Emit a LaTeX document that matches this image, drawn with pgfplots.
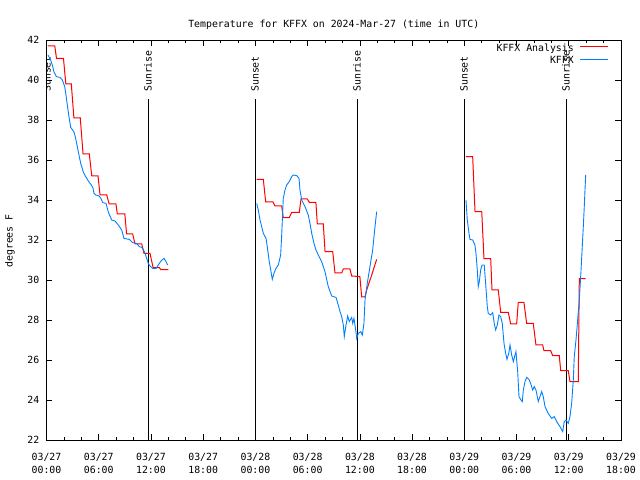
\documentclass[border=0pt]{standalone}
\usepackage{fontspec}
\setmainfont{DejaVu Sans Mono}
\usepackage{pgfplots}
\pgfplotsset{compat=1.18}
\definecolor{gpred}{RGB}{255,0,0}
\definecolor{gpblue}{RGB}{0,128,255}
\begin{document}
\begin{tikzpicture}
\path[use as bounding box] (-46.5bp,-40bp) rectangle (593.5bp,440bp);
\begin{axis}[
  at={(0,0)}, anchor=south west,
  scale only axis, width=574.5bp, height=400bp,
  xmin=0, xmax=66, ymin=22, ymax=42,
  xtick={0,6,...,66},
  xticklabels={{03/27\\00:00},{03/27\\06:00},{03/27\\12:00},{03/27\\18:00},{03/28\\00:00},{03/28\\06:00},{03/28\\12:00},{03/28\\18:00},{03/29\\00:00},{03/29\\06:00},{03/29\\12:00},{03/29\\18:00}},
  minor x tick num=2,
  ytick={22,24,...,42},
  tick align=inside,
  major tick length=6bp, minor tick length=3bp,
  every tick/.style={black, line width=0.6bp},
  axis line style={line width=0.8bp},
  font=\fontsize{9.9}{13.5}\selectfont,
  /pgf/number format/assume math mode=true,
  yticklabel style={anchor=east, inner sep=0pt, xshift=-7bp},
  xticklabel style={anchor=north, inner sep=0pt, yshift=-13bp, align=center},
  unbounded coords=jump,
  legend plot pos=right,
  legend cell align=right,
  legend style={at={(rel axis cs:1,1)}, anchor=north east, xshift=-12bp, yshift=-4bp, draw=none, fill=none, inner sep=0pt, row sep=3bp, column sep=6bp, nodes={inner sep=0pt, text height=7bp, text depth=2.5bp}},
  legend image code/.code={\draw[#1] (0bp,2bp) -- (28bp,2bp);},
]
% sunrise / sunset lines
\addplot[black, line width=0.8bp, forget plot] coordinates {(11.66,22) (11.66,39.05)};
\addplot[black, line width=0.8bp, forget plot] coordinates {(23.95,22) (23.95,39.05)};
\addplot[black, line width=0.8bp, forget plot] coordinates {(35.67,22) (35.67,39.05)};
\addplot[black, line width=0.8bp, forget plot] coordinates {(47.96,22) (47.96,39.05)};
\addplot[black, line width=0.8bp, forget plot] coordinates {(59.68,22) (59.68,39.05)};
\node[rotate=90, anchor=west, inner sep=0pt] at (axis cs:0.05,39.4) {Sunset};
\node[rotate=90, anchor=west, inner sep=0pt] at (axis cs:11.66,39.4) {Sunrise};
\node[rotate=90, anchor=west, inner sep=0pt] at (axis cs:23.95,39.4) {Sunset};
\node[rotate=90, anchor=west, inner sep=0pt] at (axis cs:35.67,39.4) {Sunrise};
\node[rotate=90, anchor=west, inner sep=0pt] at (axis cs:47.96,39.4) {Sunset};
\node[rotate=90, anchor=west, inner sep=0pt] at (axis cs:59.68,39.4) {Sunrise};
% analysis
\addplot[gpred, line width=1bp] coordinates {
(0.17,41.7)(0.95,41.7)(1.15,41.08)(1.95,41.08)(2.22,39.8)(2.85,39.8)
(3.15,38.1)(3.88,38.1)(4.2,36.3)(4.92,36.3)(5.2,35.2)(5.92,35.2)
(6.15,34.25)(6.92,34.25)(7.2,33.8)(7.98,33.8)(8.13,33.3)(9.0,33.3)
(9.2,32.3)(9.9,32.3)(10.17,31.8)(10.94,31.8)(11.2,31.33)(11.89,31.33)
(12.25,30.62)(12.95,30.62)(13.15,30.52)(13.99,30.52)
(14.5,nan)
(24.15,35.03)(24.91,35.03)(25.18,33.9)(26.02,33.9)(26.25,33.7)(27.02,33.7)
(27.2,33.12)(27.89,33.12)(28.17,33.38)(29.04,33.38)(29.24,34.05)(29.96,34.05)
(30.2,33.88)(30.95,33.88)(31.11,32.8)(31.8,32.8)(32.0,31.42)(32.88,31.42)
(33.14,30.35)(33.91,30.35)(34.1,30.55)(34.86,30.55)(35.06,30.2)(36.0,30.17)
(36.21,29.15)(36.59,29.15)(36.78,29.5)(37.36,30.25)(37.93,31.03)
(40,nan)
(48.19,36.17)(48.96,36.17)(49.23,33.42)(50.0,33.42)(50.26,31.07)(51.03,31.07)
(51.18,29.5)(51.9,29.5)(52.18,28.38)(53.05,28.38)(53.33,27.8)(54.01,27.8)
(54.2,28.88)(54.85,28.88)(55.16,27.83)(55.92,27.83)(56.23,26.75)(57.0,26.75)
(57.15,26.47)(57.92,26.47)(58.15,26.22)(58.91,26.22)(59.07,25.47)(59.94,25.47)
(60.14,24.92)(61.09,24.92)(61.21,30.07)(61.94,30.07)
};
\addlegendentry{KFFX Analysis}
% observations
\addplot[gpblue, line width=0.9bp] coordinates {
(0.17,41.25)(0.48,41.0)(0.67,40.75)(0.86,40.4)(1.13,40.17)(1.55,40.13)(1.82,40.0)
(2.09,39.67)(2.24,39.25)(2.39,38.75)(2.58,38.17)(2.78,37.63)(3.16,37.4)(3.35,37.08)
(3.54,36.67)(3.73,36.25)(3.93,35.83)(4.23,35.4)(4.50,35.17)(4.88,34.9)(5.15,34.75)
(5.34,34.6)(5.46,34.33)(5.65,34.25)(6.03,34.2)(6.23,34.1)(6.46,33.87)(6.84,33.83)
(7.10,33.4)(7.49,33.0)(7.87,32.95)(8.25,32.75)(8.64,32.5)(8.90,32.08)(9.51,32.03)
(9.90,31.87)(10.36,31.83)(10.66,31.67)(10.94,31.63)(11.12,31.53)(11.32,31.33)
(11.51,31.08)(11.69,30.83)(11.89,30.7)(12.20,30.58)(12.58,30.58)(12.84,30.75)
(13.15,30.95)(13.50,31.08)(13.73,30.92)(13.92,30.75)
(15,nan)
(24.15,33.83)(24.33,33.5)(24.53,33.0)(24.72,32.67)(24.91,32.33)(25.22,32.08)
(25.36,31.67)(25.59,30.92)(25.76,30.5)(25.94,30.03)(26.13,30.33)(26.36,30.58)
(26.63,30.75)(26.90,31.25)(27.02,32.25)(27.20,34.08)(27.40,34.5)(27.59,34.75)
(27.89,34.92)(28.17,35.17)(28.35,35.25)(28.74,35.22)(29.01,35.08)(29.12,34.5)
(29.32,34.0)(29.70,33.67)(30.07,33.25)(30.27,32.83)(30.47,32.33)(30.73,31.83)
(30.96,31.5)(31.22,31.25)(31.61,30.92)(31.99,30.42)(32.37,29.67)(32.76,29.2)
(33.26,29.13)(33.52,28.75)(33.72,28.42)(33.91,28.17)(34.10,27.75)(34.21,27.17)
(34.41,27.75)(34.60,28.2)(34.78,27.92)(35.06,28.13)(35.18,27.83)(35.32,28.08)
(35.52,27.5)(35.64,27.08)(35.82,27.33)(36.10,27.42)(36.28,27.25)(36.47,27.83)
(36.59,29.0)(36.85,29.83)(37.16,30.67)(37.47,31.5)(37.74,32.67)(37.93,33.42)
(40,nan)
(48.19,34.0)(48.34,33.0)(48.54,32.33)(48.65,32.03)(48.96,32.0)(49.22,31.75)
(49.34,31.33)(49.49,30.5)(49.60,29.67)(49.72,29.92)(49.88,30.5)(50.03,30.75)
(50.29,30.75)(50.49,29.58)(50.64,28.67)(50.75,28.33)(51.03,28.25)(51.26,28.37)
(51.44,27.83)(51.60,27.5)(51.79,27.75)(51.98,28.25)(52.18,28.17)(52.36,27.83)
(52.56,26.83)(52.75,26.33)(52.90,26.03)(53.10,26.33)(53.25,26.75)(53.44,26.25)
(53.63,25.92)(53.82,26.25)(53.93,26.42)(54.13,25.42)(54.28,24.17)(54.51,24.0)
(54.66,23.92)(54.78,24.5)(54.97,24.92)(55.16,25.13)(55.43,25.03)(55.62,24.83)
(55.85,24.5)(56.04,24.67)(56.23,24.5)(56.50,23.92)(56.69,24.17)(56.89,24.42)
(57.07,24.17)(57.27,23.67)(57.64,23.33)(58.04,23.08)(58.33,23.17)(58.61,22.92)
(58.99,22.67)(59.30,22.42)(59.48,22.92)(59.68,23.0)(59.94,22.83)(60.14,23.17)
(60.33,23.83)(60.52,25.0)(60.63,26.17)(60.83,27.0)(61.02,28.0)(61.21,29.0)
(61.40,30.42)(61.55,31.67)(61.67,32.67)(61.78,33.67)(61.94,35.25)
};
\addlegendentry{KFFX}
\end{axis}
\node[anchor=base, font=\fontsize{9.9}{12}\selectfont] at (287.25bp,412.5bp) {Temperature for KFFX on 2024-Mar-27 (time in UTC)};
\node[rotate=90, font=\fontsize{9.9}{12}\selectfont] at (-36.5bp,199bp) {degrees F};
\end{tikzpicture}
\end{document}
